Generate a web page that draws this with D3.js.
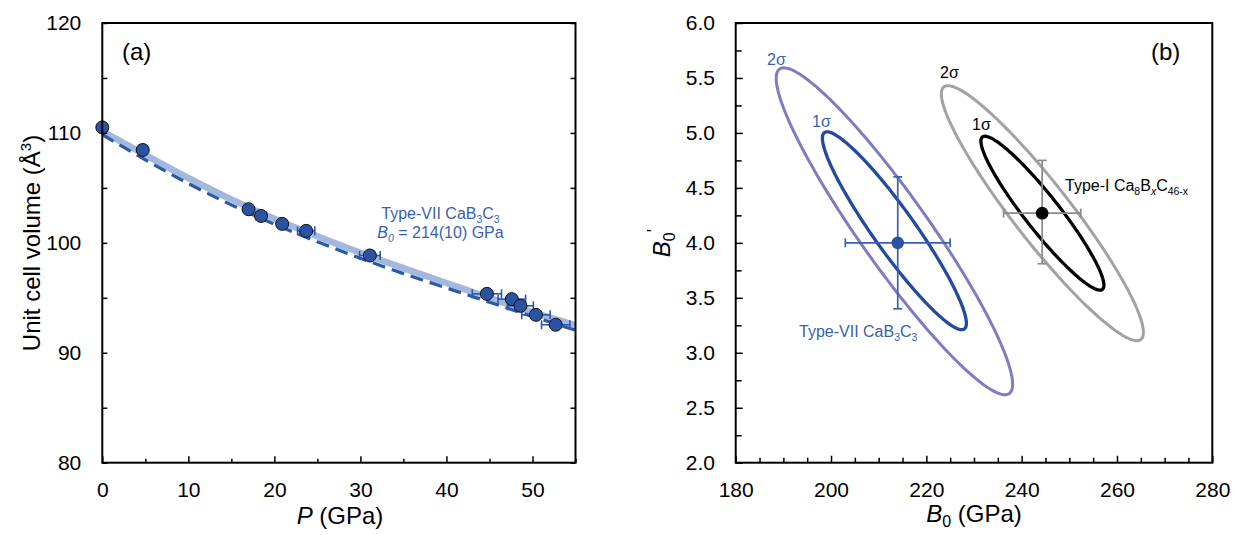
<!DOCTYPE html>
<html><head><meta charset="utf-8">
<script src="https://cdn.jsdelivr.net/npm/d3@7"></script>
<style>
html,body{margin:0;padding:0;background:#fff;}
svg text{font-family:"Liberation Sans",Arial,sans-serif;}
</style></head>
<body>
<svg id="c" width="1235" height="535"></svg>
<script>
// ---------- Panel (a) data ----------
const pressure = [0, 4.7, 17.0, 18.45, 20.9, 23.7, 31.1, 44.7, 47.6, 48.6, 50.4, 52.7];
const volume   = [110.5, 108.45, 103.06, 102.45, 101.73, 101.09, 98.85, 95.36, 94.88, 94.27, 93.45, 92.55];
const pressureErr = [0, 0, 0.4, 0.6, 0.5, 1.0, 1.2, 1.7, 1.6, 1.5, 1.65, 1.65];
const fitP      = [0, 5, 10, 15, 20, 25, 30, 35, 40, 45, 50, 55];
const fitSolidV = [110.15, 108.0, 105.9, 103.95, 102.2, 100.6, 99.1, 97.7, 96.35, 95.0, 93.7, 92.5];
const fitDashV  = [109.85, 107.55, 105.4, 103.45, 101.7, 100.1, 98.6, 97.2, 95.9, 94.6, 93.3, 92.05];
const aXTicks = [0, 10, 20, 30, 40, 50];
const aYTicks = [80, 90, 100, 110, 120];

// ---------- Panel (b) data ----------
const pointNames = ["Type-VII CaB3C3", "Type-I Ca8BxC46-x"];
const pointB0  = [214, 244.3];
const pointBp  = [4.0, 4.27];
const pointB0Lo = [203, 236.2];
const pointB0Hi = [225, 252.4];
const pointBpLo = [3.4, 3.81];
const pointBpHi = [4.6, 4.75];
const ellipseLabel = ["2σ", "1σ", "2σ", "1σ"];
const ellipseCx  = [213.3, 213.3, 244.35, 244.35];
const ellipseCy  = [4.105, 4.11, 4.27, 4.27];
const ellipseRx  = [24.8, 15.1, 21.2, 12.9];
const ellipseRy  = [1.487, 0.90, 1.16, 0.70];
const ellipseRho = [-0.935, -0.935, -0.935, -0.935];
const bXTicks = [180, 200, 220, 240, 260, 280];
const bYTicks = [2.0, 2.5, 3.0, 3.5, 4.0, 4.5, 5.0, 5.5, 6.0];

// ---------- styles ----------
const FONT_TICK = 21, FONT_TITLE = 24;
const C_PT = "#2b53a4", C_TXT = "#3a5fb2", C_FIT = "#a3b8de", C_DASH = "#2c58aa";
const C_E2 = "#7f7cc4", C_E1 = "#2349a0", C_G2 = "#a2a2a2", C_K1 = "#000";

const svg = d3.select("#c");

function frame(g, x, y) {
  g.append("rect").attr("x", x.range()[0]).attr("y", y.range()[1])
    .attr("width", x.range()[1]-x.range()[0]).attr("height", y.range()[0]-y.range()[1])
    .attr("fill", "none").attr("stroke", "#000").attr("stroke-width", 2);
}
function styleAxis(sel, fs) {
  sel.select(".domain").remove();
  sel.selectAll("line").attr("stroke", "#000").attr("stroke-width", 1.5);
  sel.selectAll("text").attr("font-size", fs).attr("fill", "#000")
     .attr("font-family", "Liberation Sans, Arial, sans-serif");
}
function range(a, b, s) { const r=[]; for (let v=a; v<=b+1e-9; v+=s) r.push(+v.toFixed(4)); return r; }

// ================= Panel (a) =================
const xa = d3.scaleLinear().domain([0, 55]).range([102.3, 575.5]);
const ya = d3.scaleLinear().domain([80, 120]).range([462.7, 23]);
const ga = svg.append("g");

const fitLine = (arr) => d3.line().curve(d3.curveMonotoneX)
  .x((d,i)=>xa(fitP[i])).y((d)=>ya(d))(arr);
ga.append("path").attr("d", fitLine(fitSolidV)).attr("fill","none")
  .attr("stroke", C_FIT).attr("stroke-width", 6.5);
ga.append("path").attr("d", fitLine(fitDashV)).attr("fill","none")
  .attr("stroke", C_DASH).attr("stroke-width", 3.2).attr("stroke-dasharray","13,7");

pressure.forEach((p,i)=>{
  const e = pressureErr[i]; if (!e) return;
  const y = ya(volume[i]);
  const g = ga.append("g").attr("stroke", C_DASH).attr("stroke-width", 1.6);
  g.append("line").attr("x1", xa(p-e)).attr("x2", xa(p+e)).attr("y1", y).attr("y2", y);
  g.append("line").attr("x1", xa(p-e)).attr("x2", xa(p-e)).attr("y1", y-4.5).attr("y2", y+4.5);
  g.append("line").attr("x1", xa(p+e)).attr("x2", xa(p+e)).attr("y1", y-4.5).attr("y2", y+4.5);
});
ga.selectAll("circle.pt").data(pressure).join("circle")
  .attr("cx", (d)=>xa(d)).attr("cy", (d,i)=>ya(volume[i])).attr("r", 6.5)
  .attr("fill", C_PT).attr("stroke", "#111").attr("stroke-width", 1);

ga.append("g").attr("transform", `translate(0,${ya.range()[0]})`)
  .call(d3.axisBottom(xa).tickValues(range(5,55,10)).tickSizeInner(-4).tickSizeOuter(0).tickFormat(""))
  .call(s=>styleAxis(s, FONT_TICK));
ga.append("g").attr("transform", `translate(0,${ya.range()[0]})`)
  .call(d3.axisBottom(xa).tickValues(aXTicks).tickSizeInner(-6.5).tickSizeOuter(0).tickPadding(19.5).tickFormat(d3.format("d")))
  .call(s=>styleAxis(s, FONT_TICK));
ga.append("g").attr("transform", `translate(${xa.range()[0]},0)`)
  .call(d3.axisLeft(ya).tickValues(range(85,115,10)).tickSizeInner(-5).tickSizeOuter(0).tickFormat(""))
  .call(s=>styleAxis(s, FONT_TICK));
ga.append("g").attr("transform", `translate(${xa.range()[0]},0)`)
  .call(d3.axisLeft(ya).tickValues(aYTicks).tickSizeInner(-5).tickSizeOuter(0).tickPadding(21).tickFormat(d3.format("d")))
  .call(s=>styleAxis(s, FONT_TICK));
ga.append("g").attr("transform", `translate(${xa.range()[1]},0)`)
  .call(d3.axisRight(ya).tickValues(range(80,120,5)).tickSizeInner(-5).tickSizeOuter(0).tickFormat(""))
  .call(s=>styleAxis(s, FONT_TICK));
frame(ga, xa, ya);

ga.append("text").attr("x", 122).attr("y", 60).attr("font-size", 24).text("(a)");
const ta = ga.append("text").attr("x", 440.5).attr("y", 219.3).attr("text-anchor","middle")
  .attr("font-size", 16).attr("fill", C_TXT);
ta.append("tspan").text("Type-VII CaB");
ta.append("tspan").attr("font-size", 10.5).attr("dy", 4).text("3");
ta.append("tspan").attr("dy", -4).text("C");
ta.append("tspan").attr("font-size", 10.5).attr("dy", 4).text("3");
const tb = ga.append("text").attr("x", 440.5).attr("y", 237.5).attr("text-anchor","middle")
  .attr("font-size", 16).attr("fill", C_TXT);
tb.append("tspan").attr("font-style","italic").text("B");
tb.append("tspan").attr("font-style","italic").attr("font-size", 10.5).attr("dy", 4).text("0");
tb.append("tspan").attr("dy", -4).text(" = 214(10) GPa");

const xta = ga.append("text").attr("x", 340).attr("y", 524).attr("text-anchor","middle").attr("font-size", FONT_TITLE);
xta.append("tspan").attr("font-style","italic").text("P");
xta.append("tspan").text(" (GPa)");
const yta = ga.append("text").attr("transform","translate(40,243) rotate(-90)").attr("text-anchor","middle").attr("font-size", FONT_TITLE);
yta.append("tspan").text("Unit cell volume (Å");
yta.append("tspan").attr("font-size", 15).attr("dy", -9).text("3");
yta.append("tspan").attr("dy", 9).text(")");

// ================= Panel (b) =================
const xb = d3.scaleLinear().domain([180, 280]).range([735.7, 1212.3]);
const yb = d3.scaleLinear().domain([2, 6]).range([462.7, 23]);
const gb = svg.append("g");

const eColors = [C_E2, C_E1, C_G2, C_K1];
const eWidths = [3, 3.3, 3, 3.3];
ellipseCx.forEach((cx,i)=>{
  const pts = d3.range(0, 360, 2).map(a=>{
    const t = a*Math.PI/180, r = ellipseRho[i];
    return [xb(cx + ellipseRx[i]*Math.cos(t)),
            yb(ellipseCy[i] + ellipseRy[i]*(r*Math.cos(t) + Math.sqrt(1-r*r)*Math.sin(t)))];
  });
  gb.append("path").attr("d", d3.line().curve(d3.curveCardinalClosed)(pts))
    .attr("fill","none").attr("stroke", eColors[i]).attr("stroke-width", eWidths[i]);
});

const pColors = [C_TXT, "#8a8a8a"];
const pFill = [C_PT, "#000"];
pointB0.forEach((b,i)=>{
  const g = gb.append("g").attr("stroke", pColors[i]).attr("stroke-width", 1.7);
  const cx = xb(b), cy = yb(pointBp[i]);
  g.append("line").attr("x1", xb(pointB0Lo[i])).attr("x2", xb(pointB0Hi[i])).attr("y1", cy).attr("y2", cy);
  g.append("line").attr("x1", xb(pointB0Lo[i])).attr("x2", xb(pointB0Lo[i])).attr("y1", cy-4.5).attr("y2", cy+4.5);
  g.append("line").attr("x1", xb(pointB0Hi[i])).attr("x2", xb(pointB0Hi[i])).attr("y1", cy-4.5).attr("y2", cy+4.5);
  g.append("line").attr("x1", cx).attr("x2", cx).attr("y1", yb(pointBpLo[i])).attr("y2", yb(pointBpHi[i]));
  g.append("line").attr("x1", cx-4.5).attr("x2", cx+4.5).attr("y1", yb(pointBpLo[i])).attr("y2", yb(pointBpLo[i]));
  g.append("line").attr("x1", cx-4.5).attr("x2", cx+4.5).attr("y1", yb(pointBpHi[i])).attr("y2", yb(pointBpHi[i]));
  gb.append("circle").attr("cx", cx).attr("cy", cy).attr("r", 6.3).attr("fill", pFill[i]);
});

gb.append("g").attr("transform", `translate(0,${yb.range()[0]})`)
  .call(d3.axisBottom(xb).tickValues(range(180,280,5).filter(v=>v%20)).tickSizeInner(-5).tickSizeOuter(0).tickFormat(""))
  .call(s=>styleAxis(s, FONT_TICK));
gb.append("g").attr("transform", `translate(0,${yb.range()[0]})`)
  .call(d3.axisBottom(xb).tickValues(bXTicks).tickSizeInner(-7).tickSizeOuter(0).tickPadding(19.5).tickFormat(d3.format("d")))
  .call(s=>styleAxis(s, FONT_TICK));
gb.append("g").attr("transform", `translate(${xb.range()[0]},0)`)
  .call(d3.axisLeft(yb).tickValues(range(2.25,5.75,0.5)).tickSizeInner(-6).tickSizeOuter(0).tickFormat(""))
  .call(s=>styleAxis(s, FONT_TICK));
gb.append("g").attr("transform", `translate(${xb.range()[0]},0)`)
  .call(d3.axisLeft(yb).tickValues(bYTicks).tickSizeInner(-7).tickSizeOuter(0).tickPadding(20.7).tickFormat(d3.format(".1f")))
  .call(s=>styleAxis(s, FONT_TICK));
frame(gb, xb, yb);

const lblPos = [[767,65,C_TXT],[812,127,C_TXT],[940,78,"#000"],[972,130,"#000"]];
ellipseLabel.forEach((t,i)=>{
  gb.append("text").attr("x", lblPos[i][0]).attr("y", lblPos[i][1]).attr("font-size", 16)
    .attr("fill", lblPos[i][2]).text(t);
});
const tc = gb.append("text").attr("x", 799).attr("y", 336.7).attr("font-size", 16).attr("fill", C_TXT);
tc.append("tspan").text("Type-VII CaB");
tc.append("tspan").attr("font-size", 10.5).attr("dy", 4).text("3");
tc.append("tspan").attr("dy", -4).text("C");
tc.append("tspan").attr("font-size", 10.5).attr("dy", 4).text("3");
const td = gb.append("text").attr("x", 1065).attr("y", 190.5).attr("font-size", 16).attr("fill", "#000");
td.append("tspan").text("Type-I Ca");
td.append("tspan").attr("font-size", 10.5).attr("dy", 4).text("8");
td.append("tspan").attr("dy", -4).text("B");
td.append("tspan").attr("font-size", 10.5).attr("font-style","italic").attr("dy", 4).text("x");
td.append("tspan").attr("dy", -4).text("C");
td.append("tspan").attr("font-size", 10.5).attr("dy", 4).text("46-x");

gb.append("text").attr("x", 1151).attr("y", 60).attr("font-size", 24).text("(b)");
const xtb = gb.append("text").attr("x", 974).attr("y", 522).attr("text-anchor","middle").attr("font-size", FONT_TITLE);
xtb.append("tspan").attr("font-style","italic").text("B");
xtb.append("tspan").attr("font-size", 16).attr("dy", 5).text("0");
xtb.append("tspan").attr("dy", -5).text(" (GPa)");
const ytb = gb.append("text").attr("transform","translate(670,243) rotate(-90)").attr("text-anchor","middle").attr("font-size", FONT_TITLE);
ytb.append("tspan").attr("font-style","italic").text("B");
ytb.append("tspan").attr("font-size", 16).attr("dy", 5).text("0");
ytb.append("tspan").attr("font-size", 18).attr("dy", -15).text("'");
</script>
</body></html>
